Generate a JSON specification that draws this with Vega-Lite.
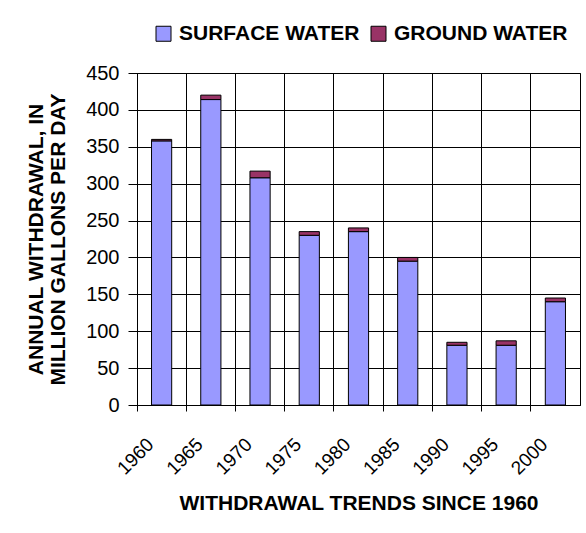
{
  "$schema": "https://vega.github.io/schema/vega-lite/v6.json",
  "width": 443,
  "height": 332,
  "autosize": {"type": "none"},
  "padding": {"left": 137, "top": 73, "right": 6, "bottom": 128},
  "background": "white",
  "config": {
    "font": "Liberation Sans",
    "view": {"stroke": "black", "strokeWidth": 1}
  },
  "data": {
    "values": [
      {"year": "1960", "source": "SURFACE WATER", "mgd": 358},
      {"year": "1960", "source": "GROUND WATER", "mgd": 2},
      {"year": "1965", "source": "SURFACE WATER", "mgd": 414},
      {"year": "1965", "source": "GROUND WATER", "mgd": 6},
      {"year": "1970", "source": "SURFACE WATER", "mgd": 308},
      {"year": "1970", "source": "GROUND WATER", "mgd": 9},
      {"year": "1975", "source": "SURFACE WATER", "mgd": 230},
      {"year": "1975", "source": "GROUND WATER", "mgd": 5},
      {"year": "1980", "source": "SURFACE WATER", "mgd": 235},
      {"year": "1980", "source": "GROUND WATER", "mgd": 5},
      {"year": "1985", "source": "SURFACE WATER", "mgd": 195},
      {"year": "1985", "source": "GROUND WATER", "mgd": 5},
      {"year": "1990", "source": "SURFACE WATER", "mgd": 81},
      {"year": "1990", "source": "GROUND WATER", "mgd": 4},
      {"year": "1995", "source": "SURFACE WATER", "mgd": 81},
      {"year": "1995", "source": "GROUND WATER", "mgd": 6},
      {"year": "2000", "source": "SURFACE WATER", "mgd": 140},
      {"year": "2000", "source": "GROUND WATER", "mgd": 5}
    ]
  },
  "mark": {"type": "bar", "width": {"band": 0.41}, "stroke": "black", "strokeWidth": 1},
  "encoding": {
    "x": {
      "field": "year",
      "type": "ordinal",
      "scale": {"paddingInner": 0, "paddingOuter": 0},
      "axis": {
        "title": "WITHDRAWAL TRENDS SINCE 1960",
        "titleFontSize": 21,
        "titleFontWeight": "bold",
        "titleColor": "black",
        "titlePadding": 15,
        "bandPosition": 0,
        "labelAngle": -45,
        "labelAlign": "right",
        "labelBaseline": "middle",
        "labelOffset": -11,
        "labelPadding": 30,
        "labelFontSize": 19,
        "labelColor": "black",
        "domainColor": "black",
        "tickColor": "black",
        "tickSize": 6,
        "grid": true,
        "gridColor": "black",
        "gridOpacity": 1
      }
    },
    "y": {
      "field": "mgd",
      "type": "quantitative",
      "stack": "zero",
      "scale": {"domain": [0, 450], "nice": false},
      "axis": {
        "title": ["ANNUAL WITHDRAWAL, IN", "MILLION GALLONS PER DAY"],
        "titleFontSize": 21,
        "titleFontWeight": "bold",
        "titleColor": "black",
        "titleLineHeight": 22,
        "titlePadding": 17,
        "values": [0, 50, 100, 150, 200, 250, 300, 350, 400, 450],
        "labelFontSize": 20,
        "labelColor": "black",
        "labelPadding": 9,
        "tickSize": 9,
        "tickColor": "black",
        "domainColor": "black",
        "gridColor": "black",
        "gridOpacity": 1
      }
    },
    "color": {
      "field": "source",
      "type": "nominal",
      "sort": ["SURFACE WATER", "GROUND WATER"],
      "scale": {"domain": ["SURFACE WATER", "GROUND WATER"], "range": ["#9999FF", "#993366"]},
      "legend": {
        "title": null,
        "orient": "none",
        "direction": "horizontal",
        "legendX": 16,
        "legendY": -50,
        "symbolType": "square",
        "symbolSize": 225,
        "symbolStrokeColor": "black",
        "symbolStrokeWidth": 1,
        "symbolOpacity": 1,
        "labelFontSize": 21,
        "labelFontWeight": "bold",
        "labelColor": "black",
        "labelOffset": 5,
        "labelLimit": 0,
        "columnPadding": 8
      }
    }
  }
}
